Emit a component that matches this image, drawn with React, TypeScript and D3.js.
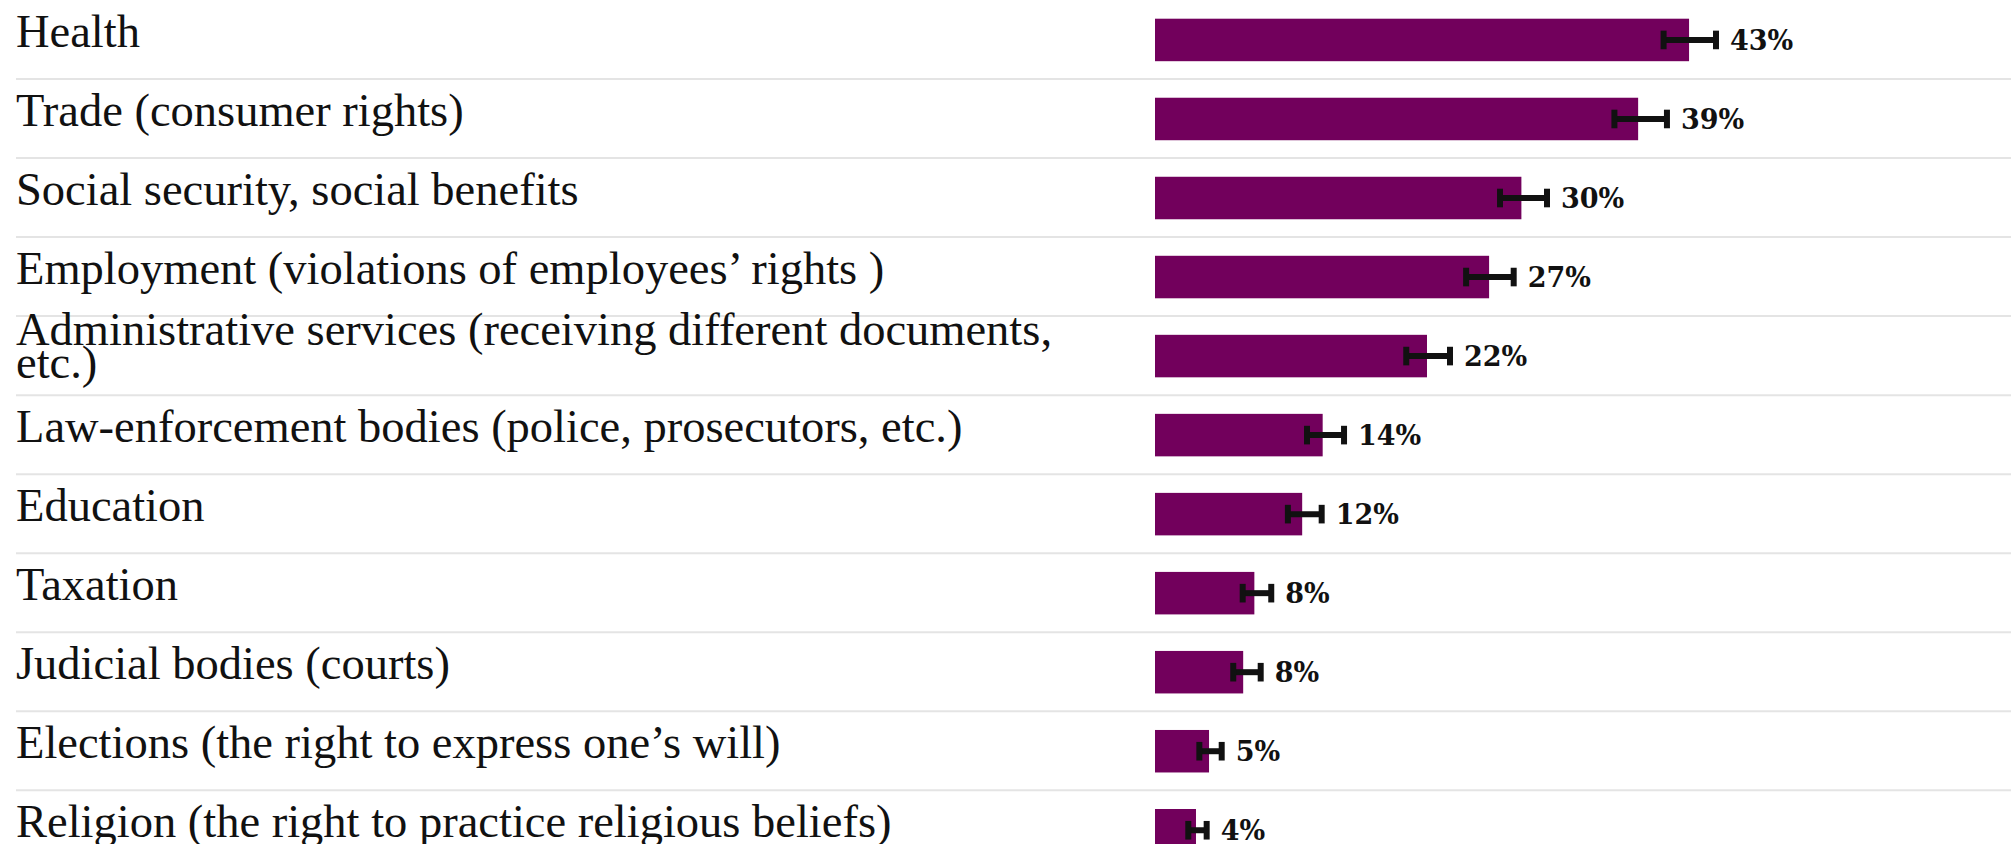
import React, { useEffect, useRef } from "react";
import * as d3 from "d3";

const categories = [
  "Health",
  "Trade (consumer rights)",
  "Social security, social benefits",
  "Employment (violations of employees’ rights )",
  "Administrative services (receiving different documents, etc.)",
  "Law-enforcement bodies (police, prosecutors, etc.)",
  "Education",
  "Taxation",
  "Judicial bodies (courts)",
  "Elections (the right to express one’s will)",
  "Religion (the right to practice religious beliefs)",
];
const values = [43, 38.9, 29.5, 26.9, 21.9, 13.5, 11.85, 8.0, 7.1, 4.35, 3.3];
const ciLow = [40.95, 36.99, 27.78, 25.05, 20.23, 12.24, 10.7, 7.06, 6.3, 3.57, 2.68];
const ciHigh = [45.17, 41.22, 31.56, 28.88, 23.75, 15.22, 13.42, 9.36, 8.51, 5.37, 4.16];
const valueLabels = ["43%", "39%", "30%", "27%", "22%", "14%", "12%", "8%", "8%", "5%", "4%"];

const W = 2011;
const H = 844;
const ROW = 79.03;
const BAR_COLOR = "#72005c";

export default function App() {
  const ref = useRef<SVGSVGElement | null>(null);

  useEffect(() => {
    const svg = d3.select(ref.current);
    svg.selectAll("*").remove();

    const rows = d3
      .scaleBand<string>()
      .domain(categories)
      .range([0, categories.length * ROW])
      .paddingInner(0)
      .paddingOuter(0);
    const x = d3.scaleLinear().domain([0, 100]).range([1155, 1155 + 1242]);

    const data = categories.map((c, i) => ({
      c,
      v: values[i],
      lo: ciLow[i],
      hi: ciHigh[i],
      label: valueLabels[i],
    }));

    // separators
    svg
      .append("g")
      .selectAll("line")
      .data(data)
      .join("line")
      .attr("x1", 16)
      .attr("x2", W)
      .attr("y1", (d) => (rows(d.c) as number) + ROW)
      .attr("y2", (d) => (rows(d.c) as number) + ROW)
      .attr("stroke", "#e4e4e4")
      .attr("stroke-width", 2);

    // category labels with wrapping
    const maxW = 1100;
    const labelG = svg.append("g");
    data.forEach((d) => {
      const top = rows(d.c) as number;
      const t = labelG
        .append("text")
        .attr("x", 16)
        .attr("font-family", "'Liberation Serif', serif")
        .attr("font-size", 46.5)
        .attr("fill", "#111");
      const words = d.c.split(" ");
      const lines: string[] = [];
      let cur: string[] = [];
      const probe = t.append("tspan");
      words.forEach((w) => {
        const trial = [...cur, w].join(" ");
        probe.text(trial);
        const len = (probe.node() as SVGTSpanElement).getComputedTextLength();
        if (len > maxW && cur.length) {
          lines.push(cur.join(" "));
          cur = [w];
        } else {
          cur.push(w);
        }
      });
      if (cur.length) lines.push(cur.join(" "));
      probe.remove();
      const n = lines.length;
      lines.forEach((ln, i) => {
        t.append("tspan")
          .attr("x", 16)
          .attr("y", top + 47 - (n - 1) * 18 + i * 33)
          .text(ln);
      });
    });

    // bars
    const barOff = 18.7;
    const barH = 42.5;
    svg
      .append("g")
      .selectAll("rect")
      .data(data)
      .join("rect")
      .attr("x", x(0))
      .attr("y", (d) => (rows(d.c) as number) + barOff)
      .attr("width", (d) => x(d.v) - x(0))
      .attr("height", barH)
      .attr("fill", BAR_COLOR);

    // error bars
    const eg = svg.append("g").attr("stroke", "#111").attr("stroke-width", 6).attr("fill", "none");
    data.forEach((d) => {
      const cy = (rows(d.c) as number) + barOff + barH / 2;
      eg.append("line").attr("x1", x(d.lo)).attr("x2", x(d.hi)).attr("y1", cy).attr("y2", cy);
      eg.append("line").attr("x1", x(d.lo)).attr("x2", x(d.lo)).attr("y1", cy - 9.3).attr("y2", cy + 9.3);
      eg.append("line").attr("x1", x(d.hi)).attr("x2", x(d.hi)).attr("y1", cy - 9.3).attr("y2", cy + 9.3);
    });

    // value labels
    svg
      .append("g")
      .selectAll("text")
      .data(data)
      .join("text")
      .attr("x", (d) => x(d.hi) + 14)
      .attr("y", (d) => (rows(d.c) as number) + barOff + barH / 2 + 10)
      .attr("font-family", "'DejaVu Serif', serif")
      .attr("font-weight", "bold")
      .attr("font-size", 27)
      .attr("fill", "#111")
      .text((d) => d.label);
  }, []);

  return (
    <div style={{ position: "fixed", left: 0, top: 0, width: W, height: H, overflow: "hidden", background: "#fff" }}>
      <svg ref={ref} width={W} height={H} style={{ display: "block" }} />
    </div>
  );
}
